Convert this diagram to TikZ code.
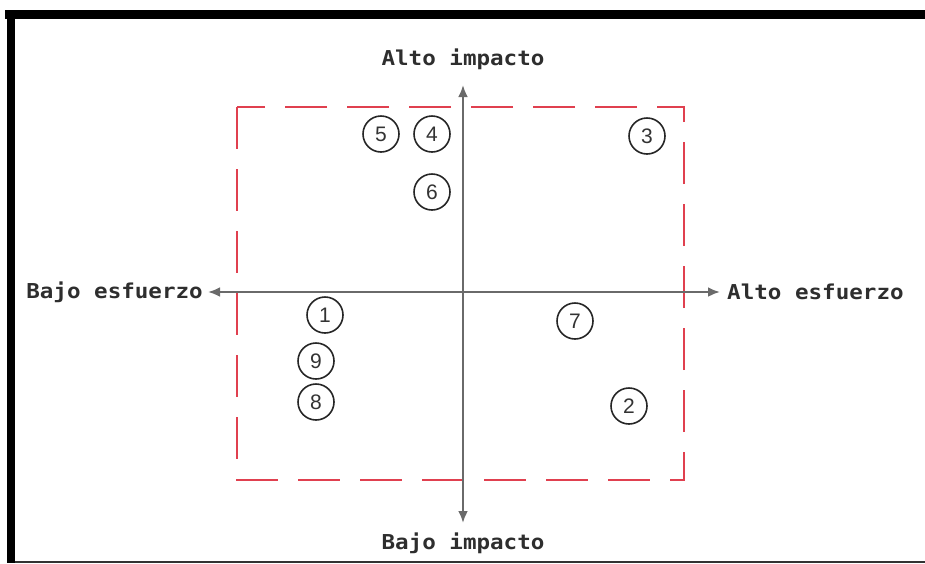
\documentclass[tikz,border=0pt]{standalone}
\usepackage{fontspec}
\setmainfont{Liberation Sans}
\newfontfamily\axisfont[FakeStretch=1.1]{DejaVu Sans Mono}
\usepackage{xcolor}
\usetikzlibrary{arrows.meta}
\definecolor{axisgray}{HTML}{6A6A6A}
\definecolor{boxred}{HTML}{E0404F}
\definecolor{labelgray}{HTML}{2E2E2E}

\begin{document}
\begin{tikzpicture}[
  x=1pt,y=-1pt,
  item/.style={draw=black!85,circle,line width=1.6pt,minimum size=36pt,inner sep=0pt,font=\fontsize{21}{23}\selectfont,text=black!80},
  axlabel/.style={font=\axisfont\bfseries\fontsize{20.5}{22}\selectfont,text=labelgray,inner sep=0pt},
  axis/.style={draw=axisgray,line width=2.4pt},
  >={Latex[length=12pt,width=10pt]}
]
  \useasboundingbox (0,0) rectangle (925,563);
  \fill[black] (5,10) rectangle (925,19);
  \fill[black] (7,10) rectangle (15,563);
  \draw[black!80,line width=1.5pt] (15,562) -- (925,562);

  \draw[boxred,line width=2pt,dash pattern=on 42pt off 20pt] (237,107) rectangle (684,480);

  \coordinate (o) at (463,292);
  \coordinate (up) at (463,85);
  \coordinate (down) at (463,523);
  \coordinate (lft) at (208,292);
  \coordinate (rgt) at (720,292);
  \draw[axis,->] (o) -- (up);
  \draw[axis,->] (o) -- (down);
  \draw[axis,->] (o) -- (lft);
  \draw[axis,->] (o) -- (rgt);

  \node[axlabel] (hi) at (463,59) {Alto impacto};
  \node[axlabel] (lo) at (463,543) {Bajo impacto};
  \node[axlabel,anchor=east] (le) at (203,292) {Bajo esfuerzo};
  \node[axlabel,anchor=west] (he) at (727,292) {Alto esfuerzo};

  \node[item] (p1) at (325,315) {1};
  \node[item] (p2) at (629,406) {2};
  \node[item] (p3) at (647,136) {3};
  \node[item] (p4) at (432,134) {4};
  \node[item] (p5) at (381,134) {5};
  \node[item] (p6) at (432,192) {6};
  \node[item] (p7) at (575,321) {7};
  \node[item] (p8) at (316,402) {8};
  \node[item] (p9) at (316,361) {9};
\end{tikzpicture}
\end{document}
